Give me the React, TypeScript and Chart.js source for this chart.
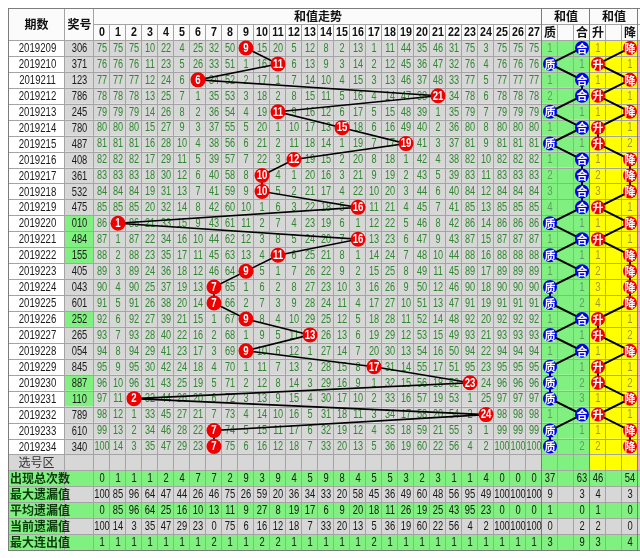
import React, { useEffect, useRef } from 'react';
import { Chart, registerables } from 'chart.js';

Chart.register(...registerables);

const periods = ['2019209','2019210','2019211','2019212','2019213','2019214','2019215','2019216','2019217','2019218','2019219','2019220','2019221','2019222','2019223','2019224','2019225','2019226','2019227','2019228','2019229','2019230','2019231','2019232','2019233','2019234'];
const awardNumbers = ['306','371','123','786','245','780','487','408','361','532','475','010','484','155','405','043','601','252','265','054','845','887','110','789','610','340'];
const pairAwards = ['010','484','155','252','887','110'];
const sumValues = [9,11,6,21,11,15,19,12,10,10,16,1,16,11,9,7,7,9,13,9,17,23,2,24,7,7];
const sumColumnLabels = ['0','1','2','3','4','5','6','7','8','9','10','11','12','13','14','15','16','17','18','19','20','21','22','23','24','25','26','27'];

const omissionRows = [
  '75 75 75 10 22 4 25 32 50 0 15 20 5 12 8 2 13 1 11 44 35 46 31 75 3 75 75 75',
  '76 76 76 11 23 5 26 33 51 1 16 0 6 13 9 3 14 2 12 45 36 47 32 76 4 76 76 76',
  '77 77 77 12 24 6 0 34 52 2 17 1 7 14 10 4 15 3 13 46 37 48 33 77 5 77 77 77',
  '78 78 78 13 25 7 1 35 53 3 18 2 8 15 11 5 16 4 14 47 38 0 34 78 6 78 78 78',
  '79 79 79 14 26 8 2 36 54 4 19 0 9 16 12 6 17 5 15 48 39 1 35 79 7 79 79 79',
  '80 80 80 15 27 9 3 37 55 5 20 1 10 17 13 0 18 6 16 49 40 2 36 80 8 80 80 80',
  '81 81 81 16 28 10 4 38 56 6 21 2 11 18 14 1 19 7 17 0 41 3 37 81 9 81 81 81',
  '82 82 82 17 29 11 5 39 57 7 22 3 0 19 15 2 20 8 18 1 42 4 38 82 10 82 82 82',
  '83 83 83 18 30 12 6 40 58 8 0 4 1 20 16 3 21 9 19 2 43 5 39 83 11 83 83 83',
  '84 84 84 19 31 13 7 41 59 9 0 5 2 21 17 4 22 10 20 3 44 6 40 84 12 84 84 84',
  '85 85 85 20 32 14 8 42 60 10 1 6 3 22 18 5 0 11 21 4 45 7 41 85 13 85 85 85',
  '86 0 86 21 33 15 9 43 61 11 2 7 4 23 19 6 1 12 22 5 46 8 42 86 14 86 86 86',
  '87 1 87 22 34 16 10 44 62 12 3 8 5 24 20 7 0 13 23 6 47 9 43 87 15 87 87 87',
  '88 2 88 23 35 17 11 45 63 13 4 0 6 25 21 8 1 14 24 7 48 10 44 88 16 88 88 88',
  '89 3 89 24 36 18 12 46 64 0 5 1 7 26 22 9 2 15 25 8 49 11 45 89 17 89 89 89',
  '90 4 90 25 37 19 13 0 65 1 6 2 8 27 23 10 3 16 26 9 50 12 46 90 18 90 90 90',
  '91 5 91 26 38 20 14 0 66 2 7 3 9 28 24 11 4 17 27 10 51 13 47 91 19 91 91 91',
  '92 6 92 27 39 21 15 1 67 0 8 4 10 29 25 12 5 18 28 11 52 14 48 92 20 92 92 92',
  '93 7 93 28 40 22 16 2 68 1 9 5 11 0 26 13 6 19 29 12 53 15 49 93 21 93 93 93',
  '94 8 94 29 41 23 17 3 69 0 10 6 12 1 27 14 7 20 30 13 54 16 50 94 22 94 94 94',
  '95 9 95 30 42 24 18 4 70 1 11 7 13 2 28 15 8 0 31 14 55 17 51 95 23 95 95 95',
  '96 10 96 31 43 25 19 5 71 2 12 8 14 3 29 16 9 1 32 15 56 18 52 0 24 96 96 96',
  '97 11 0 32 44 26 20 6 72 3 13 9 15 4 30 17 10 2 33 16 57 19 53 1 25 97 97 97',
  '98 12 1 33 45 27 21 7 73 4 14 10 16 5 31 18 11 3 34 17 58 20 54 2 0 98 98 98',
  '99 13 2 34 46 28 22 0 74 5 15 11 17 6 32 19 12 4 35 18 59 21 55 3 1 99 99 99',
  '100 14 3 35 47 29 23 0 75 6 16 12 18 7 33 20 13 5 36 19 60 22 56 4 2 100 100 100',
];

const primeCompositeCols = ['质', '', '合'];
const primeComposite = ['合','质','合','合','质','合','质','合','合','合','合','质','合','质','合','质','质','合','质','合','质','质','质','合','质','质'];
const primeCompositeMiss = [1,1,1,2,1,1,1,1,2,3,4,1,1,1,1,1,2,1,1,1,1,2,3,1,1,2];
const upDownCols = ['升', '', '降'];
const upDown = ['降','升','降','升','降','升','升','降','降','降','升','降','升','降','降','降','降','升','升','降','升','升','降','升','降','降'];
const upDownMiss = [1,1,1,1,1,1,2,1,2,3,1,1,1,1,2,3,4,1,2,1,1,2,1,1,1,2];

const statLabels = ['出现总次数', '最大遗漏值', '平均遗漏值', '当前遗漏值', '最大连出值'];
const statTotals = [0,1,1,1,2,4,7,7,2,9,3,9,4,5,9,8,4,5,5,3,2,3,1,1,4,0,0,0];
const statMaxMiss = [100,85,96,64,47,44,26,46,75,26,59,20,36,34,33,20,58,45,36,49,60,48,56,95,49,100,100,100];
const statAvgMiss = [0,85,96,64,25,16,10,13,11,9,27,8,19,17,6,9,20,18,11,26,19,25,43,95,23,0,0,0];
const statCurMiss = [100,14,3,35,47,29,23,0,75,6,16,12,18,7,33,20,13,5,36,19,60,22,56,4,2,100,100,100];
const statMaxRun = [1,1,1,1,1,1,1,2,1,1,2,2,1,1,1,1,1,2,1,1,1,1,1,1,1,1,1,1];
// side stats: 质, 合, 升, 降
const sideTotals = [37, 63, 46, 54];
const sideMaxMiss = [9, 3, 4, 3];
const sideAvgMiss = [1, 0, 1, 0];
const sideCurMiss = [0, 2, 2, 0];
const sideMaxRun = [3, 9, 3, 4];

const W = 640;
const H = 558;
const COL_W = 16;
const ROW_H = 15.94;
const MAIN_LEFT = 94;
const DATA_TOP = 40;
const X_MIN = -0.5 - MAIN_LEFT / COL_W;
const X_MAX = X_MIN + W / COL_W;
const Y_MIN = -0.5 - DATA_TOP / ROW_H;
const Y_MAX = Y_MIN + H / ROW_H;

const C_GREY = '#d7d7d7';
const C_GREEN = '#80f080';
const C_YELLOW = '#ffff00';
const C_PINK = '#f0a0f0';
const C_LINE = '#a4a4a4';
const C_LINE_DARK = '#7c7c7c';
const NUM_FONT = '"Liberation Sans", Arial, sans-serif';
const CJK_FONT = '"Noto Sans CJK SC", "Noto Sans", sans-serif';

function drawText(ctx: CanvasRenderingContext2D, s: string, x: number, y: number, font: string, color: string, sx = 1, align: CanvasTextAlign = 'center') {
  ctx.save();
  ctx.font = font;
  ctx.fillStyle = color;
  ctx.textAlign = align;
  ctx.textBaseline = 'middle';
  ctx.translate(x, y);
  ctx.scale(sx, 1);
  ctx.fillText(s, 0, 0);
  ctx.restore();
}

const tablePlugin = {
  id: 'lotteryTable',
  beforeDatasetsDraw(chart: any) {
    const ctx: CanvasRenderingContext2D = chart.ctx;
    const xs = chart.scales.x;
    const ys = chart.scales.y;
    const X = (v: number) => xs.getPixelForValue(v);
    const Y = (v: number) => ys.getPixelForValue(v);
    const left = 8;
    const periodR = 65;
    const awardR = X(-0.5);
    const mainR = X(27.5);
    const heR = X(30.5);
    const udR = X(33.5);
    const right = W;
    const top = 8;
    const h1B = Y(-1.5);
    const hB = Y(-0.5);
    const nData = periods.length;
    const bottom = Y(nData + 1 + statLabels.length - 0.5);

    ctx.save();
    ctx.fillStyle = '#ffffff';
    ctx.fillRect(0, 0, W, H);

    // header background
    ctx.fillStyle = '#fbfbfb';
    ctx.fillRect(left, top, right - left, hB - top);

    // data rows
    for (let r = 0; r < nData; r++) {
      const t = Y(r - 0.5), b = Y(r + 0.5), h = b - t;
      ctx.fillStyle = '#ffffff';
      ctx.fillRect(left, t, periodR - left, h);
      ctx.fillStyle = pairAwards.includes(awardNumbers[r]) ? C_GREEN : C_GREY;
      ctx.fillRect(periodR, t, awardR - periodR, h);
      ctx.fillStyle = C_GREY;
      ctx.fillRect(awardR, t, mainR - awardR, h);
      ctx.fillStyle = C_GREEN;
      ctx.fillRect(mainR, t, heR - mainR, h);
      ctx.fillStyle = C_YELLOW;
      ctx.fillRect(heR, t, udR - heR, h);
      ctx.fillStyle = C_PINK;
      ctx.fillRect(udR, t, right - udR, h);
    }
    // selection row
    {
      const r = nData;
      const t = Y(r - 0.5), b = Y(r + 0.5), h = b - t;
      ctx.fillStyle = C_GREY;
      ctx.fillRect(left, t, mainR - left, h);
      ctx.fillStyle = C_GREEN;
      ctx.fillRect(mainR, t, heR - mainR, h);
      ctx.fillStyle = C_YELLOW;
      ctx.fillRect(heR, t, udR - heR, h);
      ctx.fillStyle = C_PINK;
      ctx.fillRect(udR, t, right - udR, h);
    }
    // stat rows
    for (let k = 0; k < statLabels.length; k++) {
      const r = nData + 1 + k;
      const t = Y(r - 0.5), b = Y(r + 0.5), h = b - t;
      ctx.fillStyle = C_GREEN;
      ctx.fillRect(left, t, periodR - left, h);
      ctx.fillStyle = k % 2 === 0 ? C_GREEN : C_GREY;
      ctx.fillRect(periodR, t, right - periodR, h);
    }

    // grid lines
    const hline = (y: number, x0: number, x1: number, c = C_LINE) => {
      ctx.strokeStyle = c; ctx.lineWidth = 1;
      const yy = Math.round(y) + 0.5;
      ctx.beginPath(); ctx.moveTo(x0, yy); ctx.lineTo(x1, yy); ctx.stroke();
    };
    const vline = (x: number, y0: number, y1: number, c = C_LINE) => {
      ctx.strokeStyle = c; ctx.lineWidth = 1;
      const xx = Math.round(x) - 0.5;
      ctx.beginPath(); ctx.moveTo(xx, Math.round(y0)); ctx.lineTo(xx, Math.round(y1) + 1); ctx.stroke();
    };
    hline(h1B, awardR, right);
    for (let r = 0; r <= nData + statLabels.length; r++) hline(Y(r - 0.5), left, right);
    for (let c = 0; c < 27; c++) vline(X(c + 0.5), h1B, bottom);
    for (const c of [28.5, 29.5, 31.5, 32.5]) vline(X(c), h1B, bottom);
    vline(periodR, top, bottom);
    vline(awardR, top, bottom);
    vline(mainR, top, bottom, C_LINE_DARK);
    vline(heR, top, bottom, C_LINE_DARK);
    vline(udR, top, bottom, C_LINE_DARK);
    hline(top, left, right, C_LINE_DARK);
    hline(bottom, left, right, C_LINE_DARK);
    vline(left + 1, top, bottom, C_LINE_DARK);

    // header text
    const hb = `bold 12px ${CJK_FONT}`;
    drawText(ctx, '期数', (left + periodR) / 2, (top + hB) / 2, hb, '#111');
    drawText(ctx, '奖号', (periodR + awardR) / 2, (top + hB) / 2, hb, '#111');
    drawText(ctx, '和值走势', (awardR + mainR) / 2, (top + h1B) / 2 + 0.5, hb, '#111');
    drawText(ctx, '和值', (mainR + heR) / 2, (top + h1B) / 2 + 0.5, hb, '#111');
    drawText(ctx, '和值', (heR + udR) / 2, (top + h1B) / 2 + 0.5, hb, '#111');
    const h2y = (h1B + hB) / 2 + 0.5;
    sumColumnLabels.forEach((s, c) => drawText(ctx, s, X(c), h2y, `bold 13px ${NUM_FONT}`, '#111', 0.82));
    primeCompositeCols.forEach((s, i) => { if (s) drawText(ctx, s, X(28 + i), h2y, hb, '#111'); });
    upDownCols.forEach((s, i) => { if (s) drawText(ctx, s, X(31 + i), h2y, hb, '#111'); });

    // data text
    for (let r = 0; r < nData; r++) {
      const y = Y(r) + 0.5;
      drawText(ctx, periods[r], (left + periodR) / 2 + 1, y, `13px ${NUM_FONT}`, '#1a1a1a', 0.74);
      drawText(ctx, awardNumbers[r], (periodR + awardR) / 2, y, `13px ${NUM_FONT}`, '#1a1a1a', 0.72);
      omissionRows[r].split(' ').forEach((s, c) => {
        if (s !== '0') drawText(ctx, s, X(c), y, `12px ${NUM_FONT}`, '#2f862f', 0.76);
      });
      const pcCol = primeComposite[r] === primeCompositeCols[0] ? 30 : 28;
      drawText(ctx, String(primeCompositeMiss[r]), X(pcCol), y, `12px ${NUM_FONT}`, '#5e9e5e', 0.8);
      const udCol = upDown[r] === upDownCols[0] ? 33 : 31;
      drawText(ctx, String(upDownMiss[r]), X(udCol), y, `12px ${NUM_FONT}`, '#9a9a2a', 0.8);
    }
    // selection row label
    drawText(ctx, '选号区', (left + periodR) / 2, Y(nData) + 0.5, `12px ${CJK_FONT}`, '#333');

    // stats
    const statRows = [statTotals, statMaxMiss, statAvgMiss, statCurMiss, statMaxRun];
    const sideRows = [sideTotals, sideMaxMiss, sideAvgMiss, sideCurMiss, sideMaxRun];
    const sideCols = [28, 30, 31, 33];
    statLabels.forEach((lab, k) => {
      const y = Y(nData + 1 + k) + 0.5;
      drawText(ctx, lab, left + 2, y, `bold 12px ${CJK_FONT}`, '#0b3a0b', 1, 'left');
      statRows[k].forEach((v, c) => drawText(ctx, String(v), X(c), y, `13px ${NUM_FONT}`, '#151515', 0.72));
      sideRows[k].forEach((v, i) => drawText(ctx, String(v), X(sideCols[i]), y, `13px ${NUM_FONT}`, '#151515', 0.72));
    });
    ctx.restore();
  },
};

const labelPlugin = {
  id: 'circleLabels',
  afterDatasetsDraw(chart: any) {
    const ctx: CanvasRenderingContext2D = chart.ctx;
    chart.data.datasets.forEach((ds: any, di: number) => {
      const meta = chart.getDatasetMeta(di);
      meta.data.forEach((pt: any, i: number) => {
        drawText(ctx, ds.pointLabels[i], pt.x, pt.y + 0.5, ds.labelFont, '#ffffff', ds.labelScale);
      });
    });
  },
};

export default function App() {
  const ref = useRef<HTMLCanvasElement>(null);
  useEffect(() => {
    const canvas = ref.current;
    if (!canvas) return;
    const chart = new Chart(canvas, {
      type: 'line',
      data: {
        datasets: [
          {
            data: sumValues.map((s, i) => ({ x: s, y: i })),
            pointLabels: sumValues.map((s) => String(s)),
            labelFont: `bold 12px ${NUM_FONT}`,
            labelScale: 0.8,
            borderColor: '#000000',
            borderWidth: 1.6,
            pointRadius: 7.5,
            pointBackgroundColor: '#ee0000',
            pointBorderColor: '#ee0000',
            pointBorderWidth: 0,
            tension: 0,
          } as any,
          {
            data: primeComposite.map((k, i) => ({ x: 28 + primeCompositeCols.indexOf(k), y: i })),
            pointLabels: primeComposite,
            labelFont: `bold 11px ${CJK_FONT}`,
            labelScale: 1,
            borderColor: '#000000',
            borderWidth: 2,
            pointRadius: 7,
            pointBackgroundColor: '#0000f0',
            pointBorderColor: '#0000f0',
            pointBorderWidth: 0,
            tension: 0,
          } as any,
          {
            data: upDown.map((k, i) => ({ x: 31 + upDownCols.indexOf(k), y: i })),
            pointLabels: upDown,
            labelFont: `bold 11px ${CJK_FONT}`,
            labelScale: 1,
            borderColor: '#000000',
            borderWidth: 2,
            pointRadius: 7,
            pointBackgroundColor: '#ee0000',
            pointBorderColor: '#ee0000',
            pointBorderWidth: 0,
            tension: 0,
          } as any,
        ],
      },
      options: {
        animation: false,
        responsive: false,
        devicePixelRatio: 1,
        events: [],
        layout: { padding: 0, autoPadding: false },
        plugins: { legend: { display: false }, tooltip: { enabled: false } },
        scales: {
          x: { type: 'linear', min: X_MIN, max: X_MAX, display: false },
          y: { type: 'linear', min: Y_MIN, max: Y_MAX, reverse: true, display: false },
        },
      } as any,
      plugins: [tablePlugin, labelPlugin],
    });
    return () => chart.destroy();
  }, []);
  return (
    <div style={{ position: 'fixed', left: 0, top: 0, width: W, height: H, background: '#fff' }}>
      <canvas ref={ref} width={W} height={H} style={{ display: 'block', width: W, height: H }} />
    </div>
  );
}
